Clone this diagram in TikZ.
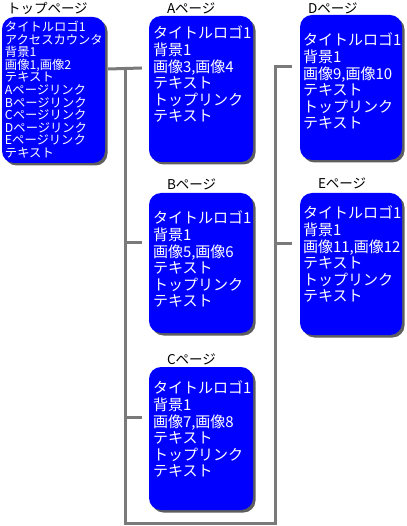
\documentclass[tikz,border=0pt]{standalone}
\usepackage{fontspec}
\newfontfamily\jpfont{Noto Sans CJK JP}
\usepackage{xcolor}
\definecolor{pageBlue}{HTML}{0000FF}
\definecolor{shadowGray}{HTML}{5E5E5E}
\definecolor{lineGray}{HTML}{7A7A7A}
\usepackage{tikz}
\usetikzlibrary{shadows, positioning, calc}

\begin{document}
\begin{tikzpicture}[
        x=1pt, y=-1pt,
        pageBox/.style={
            fill=pageBlue,
            rounded corners=12pt,
            minimum width=104pt,
            minimum height=144pt,
            inner sep=0pt,
            drop shadow={shadow xshift=2.5pt, shadow yshift=-2.5pt, fill=shadowGray, opacity=1}
        },
        pageText/.style={
            anchor=north west,
            inner sep=0pt,
            text=white,
            align=left,
            font=\jpfont\fontsize{15}{16.6}\selectfont
        },
        topText/.style={
            pageText,
            font=\jpfont\fontsize{12.3}{12.6}\selectfont
        },
        pageTitle/.style={
            inner sep=0pt,
            font=\jpfont\fontsize{13.5}{14}\selectfont
        },
        treeLine/.style={
            draw=lineGray,
            line width=3pt
        }
    ]
    \useasboundingbox (0,0) rectangle (406,526);

    % Top page
    \node[pageBox, minimum width=103pt, minimum height=146pt] (top) at (53.5,90) {};
    \node[pageTitle, above right=2pt and 5pt of top.north west] (topTitle) {トップページ};
    \node[topText] (topLines) at ([xshift=3pt,yshift=-4pt]top.north west) {タイトルロゴ1\\アクセスカウンタ\\背景1\\画像1,画像2\\テキスト\\Aページリンク\\Bページリンク\\Cページリンク\\Dページリンク\\Eページリンク\\テキスト};

    % Pages A, B, C
    \node[pageBox, minimum height=146pt] (pageA) at (201,89) {};
    \node[pageTitle, above right=2pt and 18pt of pageA.north west] (titleA) {Aページ};
    \node[pageText] (linesA) at ([xshift=4pt,yshift=-10pt]pageA.north west) {タイトルロゴ1\\背景1\\画像3,画像4\\テキスト\\トップリンク\\テキスト};

    \node[pageBox, minimum height=140pt] (pageB) at (201,263) {};
    \node[pageTitle, above right=3pt and 18pt of pageB.north west] (titleB) {Bページ};
    \node[pageText] (linesB) at ([xshift=4pt,yshift=-18pt]pageB.north west) {タイトルロゴ1\\背景1\\画像5,画像6\\テキスト\\トップリンク\\テキスト};

    \node[pageBox, minimum height=143pt] (pageC) at (201,438.5) {};
    \node[pageTitle, above right=2pt and 18pt of pageC.north west] (titleC) {Cページ};
    \node[pageText] (linesC) at ([xshift=4pt,yshift=-14pt]pageC.north west) {タイトルロゴ1\\背景1\\画像7,画像8\\テキスト\\トップリンク\\テキスト};

    % Pages D, E
    \node[pageBox, minimum width=102pt, minimum height=145pt] (pageD) at (351,87.5) {};
    \node[pageTitle, above right=1pt and 8pt of pageD.north west] (titleD) {Dページ};
    \node[pageText] (linesD) at ([xshift=3pt,yshift=-18pt]pageD.north west) {タイトルロゴ1\\背景1\\画像9,画像10\\テキスト\\トップリンク\\テキスト};

    \node[pageBox, minimum width=102pt, minimum height=142pt] (pageE) at (351,264) {};
    \node[pageTitle, above right=4pt and 18pt of pageE.north west] (titleE) {Eページ};
    \node[pageText] (linesE) at ([xshift=3pt,yshift=-13pt]pageE.north west) {タイトルロゴ1\\背景1\\画像11,画像12\\テキスト\\トップリンク\\テキスト};

    % Tree lines
    \coordinate (trunkL) at (125,523);
    \coordinate (trunkR) at (275,523);
    \coordinate (stubA) at ([xshift=-7pt,yshift=21pt]pageA.west);
    \coordinate (stubB) at ([xshift=-7pt,yshift=21pt]pageB.west);
    \coordinate (stubC) at ([xshift=-7pt,yshift=21pt]pageC.west);
    \coordinate (stubD) at ([xshift=-8pt,yshift=21pt]pageD.west);
    \coordinate (stubE) at ([xshift=-8pt,yshift=21pt]pageE.west);

    \draw[treeLine] ([xshift=3pt,yshift=21pt]top.east) -- (stubA);
    \draw[treeLine] (trunkL |- stubA) -- (trunkL) -- (trunkR) -- (trunkR |- stubD) -- (stubD);
    \draw[treeLine] (trunkL |- stubB) -- (stubB);
    \draw[treeLine] (trunkL |- stubC) -- (stubC);
    \draw[treeLine] (trunkR |- stubE) -- (stubE);
\end{tikzpicture}
\end{document}
